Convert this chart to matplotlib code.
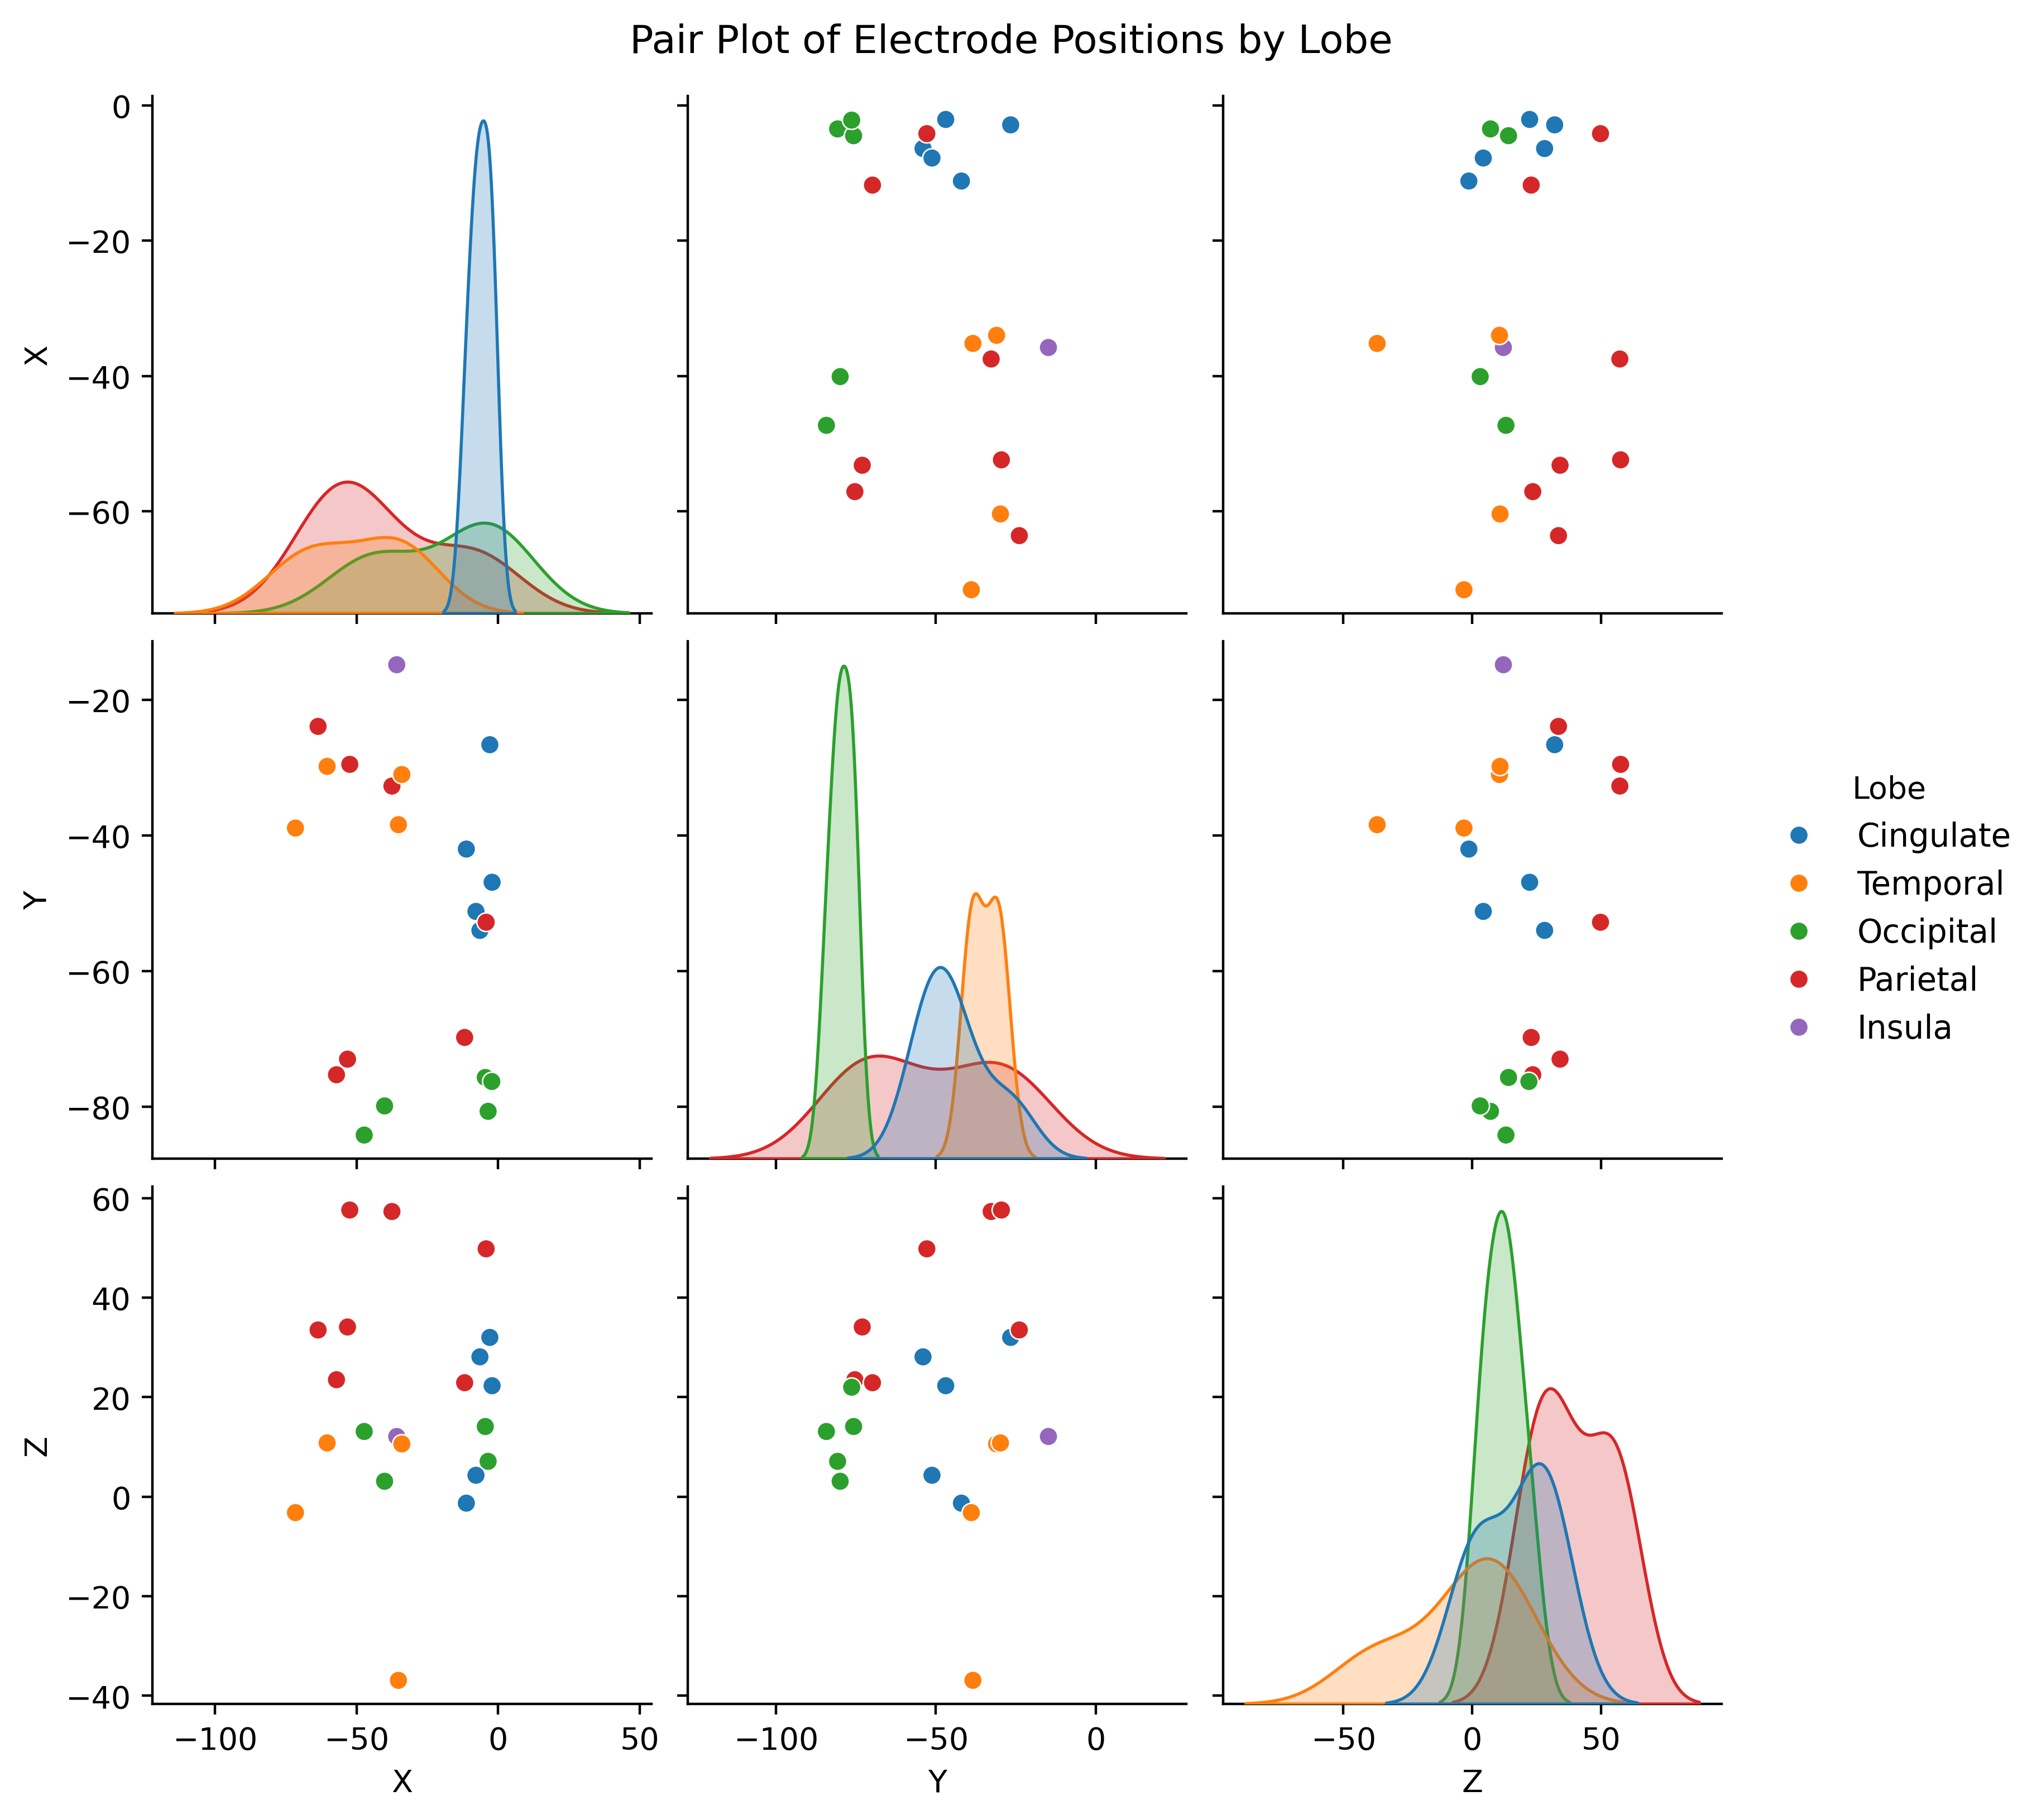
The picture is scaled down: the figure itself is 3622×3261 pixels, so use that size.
import matplotlib
matplotlib.use("Agg")
import matplotlib.pyplot as plt
from matplotlib.ticker import MultipleLocator
import pandas as pd
import seaborn as sns

lobe = ["Cingulate", "Temporal", "Occipital", "Parietal", "Insula",
        "Cingulate", "Parietal", "Temporal", "Temporal", "Parietal",
        "Cingulate", "Temporal", "Occipital", "Occipital", "Occipital",
        "Parietal", "Occipital", "Cingulate", "Cingulate", "Parietal",
        "Parietal", "Parietal"]
x_pos = [-2.9, -35.2, -47.3, -63.6, -35.8, -6.4, -37.5, -34.0, -60.4, -52.4,
         -11.2, -71.6, -3.5, -40.1, -4.5, -57.1, -2.2, -2.1, -7.8, -4.2,
         -53.2, -11.8]
y_pos = [-26.6, -38.4, -84.2, -23.9, -14.8, -54.0, -32.7, -31.0, -29.8, -29.5,
         -42.0, -38.9, -80.7, -79.9, -75.7, -75.3, -76.3, -46.9, -51.2, -52.8,
         -73.0, -69.8]
z_pos = [32.0, -36.9, 13.1, 33.5, 12.1, 28.1, 57.3, 10.6, 10.8, 57.6,
         -1.3, -3.2, 7.1, 3.1, 14.1, 23.5, 22.0, 22.3, 4.3, 49.8,
         34.1, 22.9]

df = pd.DataFrame({"X": x_pos, "Y": y_pos, "Z": z_pos, "Lobe": lobe})

g = sns.pairplot(df, hue="Lobe", height=2.5)
fig = g.figure
fig.set_size_inches(3622 / 400, 3262 / 400)
fig.subplots_adjust(left=0.0754, right=0.8515, bottom=0.0638, top=0.947,
                    wspace=0.073, hspace=0.054)

for r in (0, 1):
    for ax in g.axes[r]:
        ax.yaxis.set_major_locator(MultipleLocator(20))

sns.move_legend(g, "center right", bbox_to_anchor=(1.009, 0.5),
                frameon=False, fontsize=10.4, title="Lobe",
                title_fontsize=10)

fig.suptitle("Pair Plot of Electrode Positions by Lobe", y=0.977,
             va="center", fontsize=12.7)
fig.savefig("out.png", dpi=400)
